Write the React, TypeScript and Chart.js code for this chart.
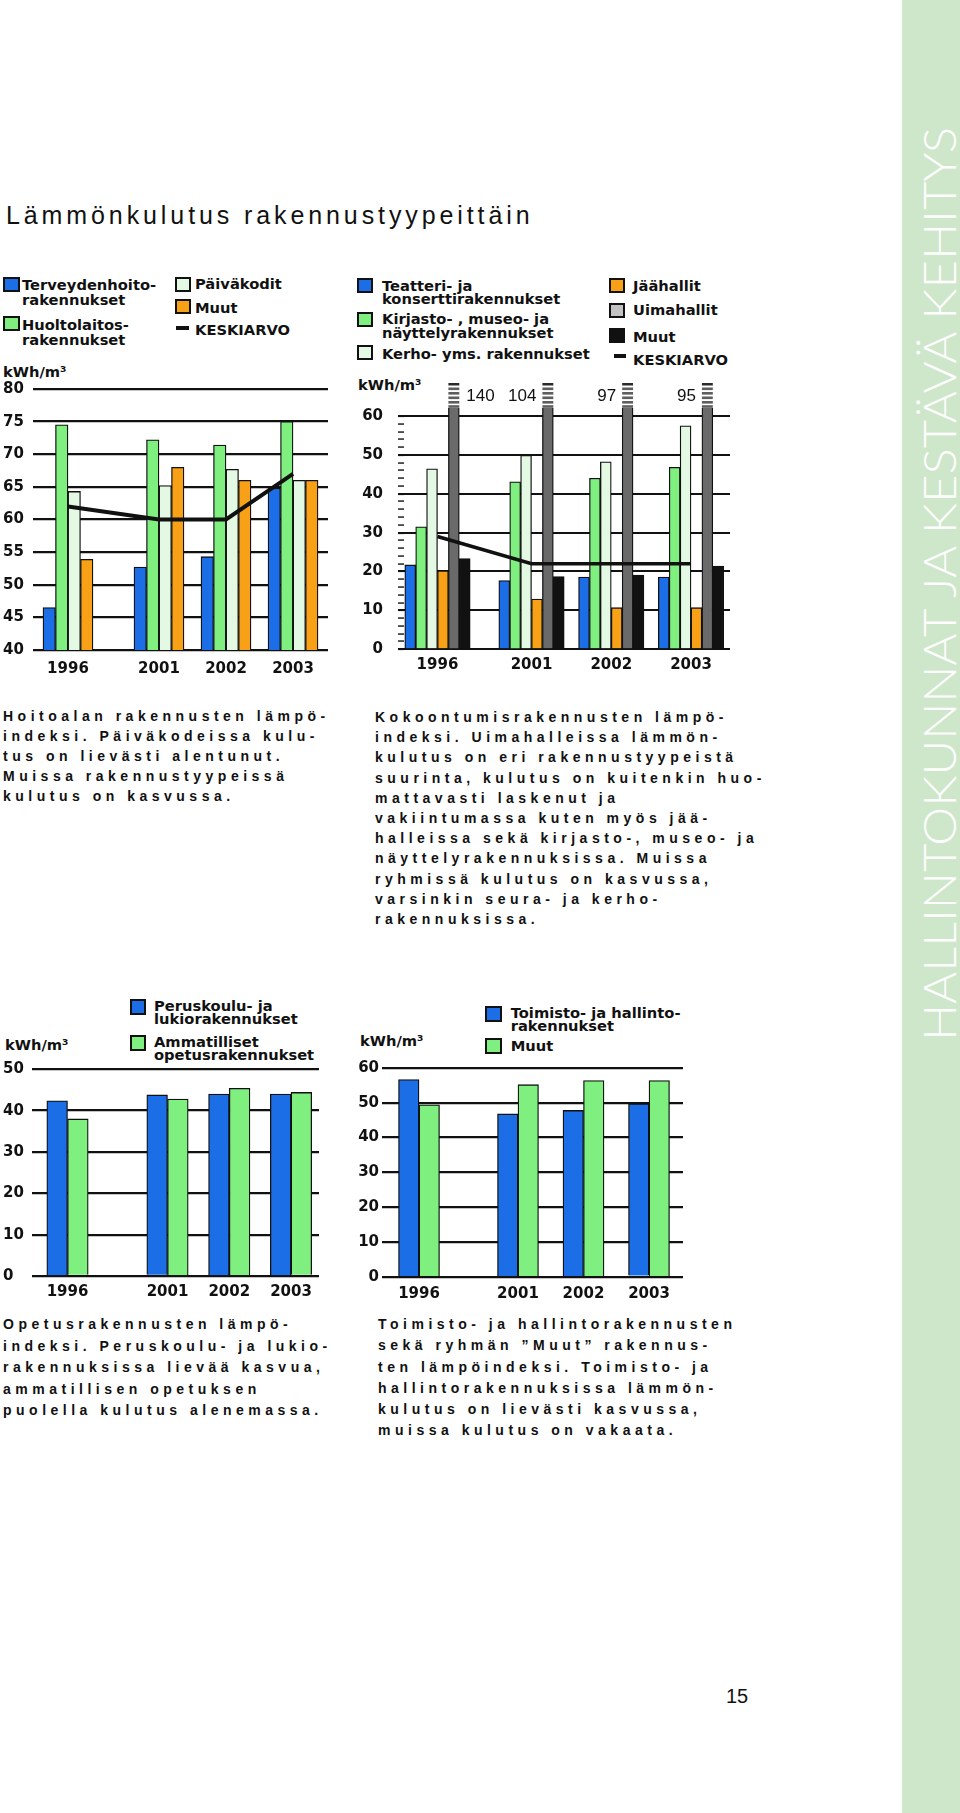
import React, { useEffect, useRef } from 'react';
import { Chart, registerables } from 'chart.js';

Chart.register(...registerables);

// ---------- DATA ----------
const years = ['1996', '2001', '2002', '2003'];

// Hoitoala (kWh/m3)
const terveydenhoito = [46.5, 52.7, 54.3, 64.8];
const huoltolaitos = [74.5, 72.2, 71.4, 75.0];
const paivakodit = [64.3, 65.2, 67.7, 66.0];
const hoitoMuut = [53.9, 68.0, 66.0, 66.0];
const hoitoKeskiarvo = [62, 60, 60, 67];

// Kokoontumisrakennukset
const teatteri = [21.7, 17.7, 18.6, 18.6];
const kirjasto = [31.5, 43.1, 44.0, 46.8];
const kerho = [46.4, 49.9, 48.2, 57.5];
const jaahallit = [20.2, 12.9, 10.7, 10.7];
const uimahallit = [140, 104, 97, 95];
const kokoMuut = [23.3, 18.7, 19.1, 21.4];
const kokoKeskiarvo = [29, 22, 22, 22];

// Opetusrakennukset
const peruskoulu = [42.4, 43.8, 44.0, 44.0];
const ammatilliset = [38.0, 42.8, 45.4, 44.4];

// Toimisto- ja hallintorakennukset
const toimisto = [56.7, 46.8, 47.8, 49.7];
const toimistoMuut = [49.4, 55.2, 56.4, 56.4];

// ---------- STYLE ----------
const C = {
  blue: '#1b6ee6',
  green: '#7ff07f',
  light: '#e4f9e4',
  orange: '#f8a117',
  gray: '#6a6a6a',
  black: '#111111',
  legendGray: '#c2c2c2',
  band: '#cee7ca',
};
const axisFont = { family: "'DejaVu Sans', sans-serif", size: 15, weight: 'bold' as const };
const legendFont = "bold 14.7px 'DejaVu Sans', sans-serif";
const paraFont = "bold 14px 'Liberation Sans', Arial, sans-serif";

type Layout = {
  box: { left: number; top: number; width: number; height: number };
  area: { l: number; t: number; r: number; b: number };
  axisLeft: number;
  crossAlign: 'near' | 'far';
  tickLength: number;
  labelPad: number;
  slots: number[];
  xMin: number;
  xMax: number;
  xLabelPad: number;
  yMin: number;
  yMax: number;
  yStep: number;
  labelEvery: number;
  gridEvery: number;
  barThickness: number;
  gridWidth: number;
};

const L1: Layout = {
  box: { left: 0, top: 372, width: 335, height: 310 },
  area: { l: 33, t: 389, r: 328, b: 650 },
  axisLeft: 3, crossAlign: 'far', tickLength: 0, labelPad: 0,
  slots: [0, 1.358, 2.358, 3.358], xMin: -0.522, xMax: 3.88, xLabelPad: 10,
  yMin: 40, yMax: 80, yStep: 5, labelEvery: 5, gridEvery: 5,
  barThickness: 12.5, gridWidth: 2.3,
};
const L2: Layout = {
  box: { left: 350, top: 372, width: 390, height: 308 },
  area: { l: 404, t: 416, r: 730, b: 649.3 },
  axisLeft: 352, crossAlign: 'near', tickLength: 6, labelPad: 15,
  slots: [0, 1.179, 2.179, 3.179], xMin: -0.42, xMax: 3.668, xLabelPad: 6.7,
  yMin: 0, yMax: 60, yStep: 2, labelEvery: 10, gridEvery: 10,
  barThickness: 10.9, gridWidth: 2.1,
};
const L3: Layout = {
  box: { left: 0, top: 1058, width: 330, height: 250 },
  area: { l: 32, t: 1069.3, r: 319, b: 1276 },
  axisLeft: 3, crossAlign: 'far', tickLength: 0, labelPad: 0,
  slots: [0, 1.619, 2.619, 3.619], xMin: -0.575, xMax: 4.072, xLabelPad: 7.5,
  yMin: 0, yMax: 50, yStep: 10, labelEvery: 10, gridEvery: 10,
  barThickness: 20.7, gridWidth: 2.3,
};
const L4: Layout = {
  box: { left: 350, top: 1056, width: 345, height: 252 },
  area: { l: 382, t: 1067.3, r: 683, b: 1276.7 },
  axisLeft: 352, crossAlign: 'near', tickLength: 0, labelPad: 3,
  slots: [0, 1.511, 2.511, 3.511], xMin: -0.565, xMax: 4.03, xLabelPad: 8.3,
  yMin: 0, yMax: 60, yStep: 10, labelEvery: 10, gridEvery: 10,
  barThickness: 20.5, gridWidth: 2.3,
};

function buildOptions(L: Layout): any {
  const isMajor = (v: number) => Math.round(v) % L.gridEvery === 0;
  return {
    animation: false,
    responsive: false,
    maintainAspectRatio: false,
    events: [],
    layout: {
      autoPadding: false,
      padding: {
        left: L.axisLeft - L.box.left,
        top: L.area.t - L.box.top,
        right: L.box.left + L.box.width - L.area.r,
        bottom: 0,
      },
    },
    plugins: { legend: { display: false }, tooltip: { enabled: false } },
    scales: {
      x: {
        type: 'linear',
        offset: false,
        min: L.xMin,
        max: L.xMax,
        afterBuildTicks: (a: any) => {
          a.ticks = L.slots.map((v) => ({ value: v }));
        },
        afterFit: (a: any) => {
          a.height = L.box.top + L.box.height - L.area.b;
        },
        ticks: {
          autoSkip: false,
          maxRotation: 0,
          padding: L.xLabelPad,
          font: axisFont,
          color: '#111',
          callback: (_v: any, i: number) => years[i],
        },
        grid: { display: false, drawTicks: false, offset: false },
        border: { display: false },
      },
      y: {
        type: 'linear',
        min: L.yMin,
        max: L.yMax,
        afterFit: (a: any) => {
          a.width = L.area.l - L.axisLeft;
        },
        ticks: {
          stepSize: L.yStep,
          autoSkip: false,
          font: axisFont,
          color: '#111',
          padding: L.labelPad,
          crossAlign: L.crossAlign,
          callback: (v: number) => (Math.round(v) % L.labelEvery === 0 ? String(v) : ''),
        },
        grid: {
          color: (c: any) => (c.tick && isMajor(c.tick.value) ? '#111' : 'rgba(0,0,0,0)'),
          lineWidth: L.gridWidth,
          drawTicks: L.tickLength > 0,
          tickLength: L.tickLength,
          tickColor: '#111',
          tickWidth: (c: any) => (c.tick && isMajor(c.tick.value) ? L.gridWidth : 1.4),
        },
        border: { display: false },
      },
    },
  };
}

function bars(L: Layout, label: string, values: number[], color: string, extra: any = {}) {
  return {
    type: 'bar',
    label,
    data: L.slots.map((x, i) => ({ x, y: values[i] })),
    backgroundColor: color,
    borderColor: '#111',
    borderWidth: 1.3,
    barThickness: L.barThickness,
    order: 1,
    ...extra,
  };
}

function avgLine(L: Layout, values: number[], width: number) {
  return {
    type: 'line',
    label: 'KESKIARVO',
    data: L.slots.map((x, i) => ({ x, y: values[i] })),
    borderColor: '#111',
    borderWidth: width,
    pointRadius: 0,
    tension: 0,
    fill: false,
    order: 0,
  };
}

const uimaBreak = {
  id: 'uimaBreak',
  afterDatasetsDraw(chart: any) {
    const meta = chart.getDatasetMeta(4);
    const ctx = chart.ctx;
    const top = chart.chartArea.top;
    ctx.save();
    meta.data.forEach((bar: any, i: number) => {
      const { x, width } = bar.getProps(['x', 'width'], true);
      const l = x - width / 2;
      ctx.fillStyle = '#2a2a2a';
      ctx.fillRect(l, top - 33, width, 2.5);
      ctx.fillStyle = '#5e5e5e';
      [-28.5, -24, -19.5, -15, -10.8].forEach((o) => ctx.fillRect(l, top + o, width, 2.6));
      ctx.font = "17px 'Liberation Sans', Arial, sans-serif";
      ctx.fillStyle = '#111';
      ctx.textBaseline = 'middle';
      if (i === 0) {
        ctx.textAlign = 'left';
        ctx.fillText(String(uimahallit[i]), l + width + 7, top - 19.5);
      } else {
        ctx.textAlign = 'right';
        ctx.fillText(String(uimahallit[i]), l - 6, top - 19.5);
      }
    });
    ctx.restore();
  },
};

function ChartBox({ layout, datasets, plugins = [] }: { layout: Layout; datasets: any[]; plugins?: any[] }) {
  const ref = useRef<HTMLCanvasElement>(null);
  useEffect(() => {
    const chart = new Chart(ref.current as HTMLCanvasElement, {
      type: 'bar',
      data: { datasets } as any,
      options: buildOptions(layout),
      plugins,
    } as any);
    return () => chart.destroy();
  }, []);
  const b = layout.box;
  return (
    <canvas
      ref={ref}
      width={b.width}
      height={b.height}
      style={{ position: 'absolute', left: b.left, top: b.top, width: b.width, height: b.height }}
    />
  );
}

function Sq({ left, top, color, w = 16, h = 15 }: any) {
  return (
    <div
      style={{
        position: 'absolute', left, top, width: w, height: h, boxSizing: 'border-box',
        border: '2px solid #111', background: color,
      }}
    />
  );
}
function Dash({ left, top, w = 13 }: any) {
  return <div style={{ position: 'absolute', left, top, width: w, height: 3.5, background: '#111' }} />;
}
function LText({ left, top, lh = 13.3, children }: any) {
  return (
    <div style={{ position: 'absolute', left, top, font: legendFont, lineHeight: lh + 'px', whiteSpace: 'pre', color: '#111' }}>
      {children}
    </div>
  );
}
function Unit({ left, top }: any) {
  return (
    <div style={{ position: 'absolute', left, top, font: legendFont, lineHeight: 1, whiteSpace: 'pre', color: '#111' }}>
      kWh/m³
    </div>
  );
}
function Para({ left, top, lh = 18.4, lines }: any) {
  return (
    <div
      style={{
        position: 'absolute', left, top, font: paraFont, lineHeight: lh + 'px',
        letterSpacing: '4.5px', whiteSpace: 'pre', color: '#111',
      }}
    >
      {lines.join('\n')}
    </div>
  );
}

export default function App() {
  const ds1 = [
    bars(L1, 'Terveydenhoitorakennukset', terveydenhoito, C.blue),
    bars(L1, 'Huoltolaitosrakennukset', huoltolaitos, C.green),
    bars(L1, 'Päiväkodit', paivakodit, C.light),
    bars(L1, 'Muut', hoitoMuut, C.orange),
    avgLine(L1, hoitoKeskiarvo, 4),
  ];
  const ds2 = [
    bars(L2, 'Teatteri- ja konserttirakennukset', teatteri, C.blue),
    bars(L2, 'Kirjasto-, museo- ja näyttelyrakennukset', kirjasto, C.green),
    bars(L2, 'Kerho- yms. rakennukset', kerho, C.light),
    bars(L2, 'Jäähallit', jaahallit, C.orange),
    bars(L2, 'Uimahallit', uimahallit, C.gray, { clip: { left: false, right: false, top: 8, bottom: false } }),
    bars(L2, 'Muut', kokoMuut, C.black),
    avgLine(L2, kokoKeskiarvo, 3.6),
  ];
  const ds3 = [
    bars(L3, 'Peruskoulu- ja lukiorakennukset', peruskoulu, C.blue),
    bars(L3, 'Ammatilliset opetusrakennukset', ammatilliset, C.green),
  ];
  const ds4 = [
    bars(L4, 'Toimisto- ja hallintorakennukset', toimisto, C.blue),
    bars(L4, 'Muut', toimistoMuut, C.green),
  ];

  return (
    <div
      style={{
        position: 'absolute', left: 0, top: 0, width: 960, height: 1813,
        background: '#fff', overflow: 'hidden',
      }}
    >
      {/* Title */}
      <div
        style={{
          position: 'absolute', left: 6, top: 203, font: "25px 'Liberation Sans', Arial, sans-serif",
          letterSpacing: '3.9px', lineHeight: 1, whiteSpace: 'pre', color: '#111',
        }}
      >
        Lämmönkulutus rakennustyypeittäin
      </div>

      {/* Chart 1 legend */}
      <Sq left={3} top={277} color={C.blue} w={17} />
      <LText left={22} top={277.4} lh={15}>{'Terveydenhoito-\nrakennukset'}</LText>
      <Sq left={3} top={316} color={C.green} w={17} />
      <LText left={22} top={316.7} lh={15}>{'Huoltolaitos-\nrakennukset'}</LText>
      <Sq left={175} top={277} color={C.light} />
      <LText left={195} top={276.4} lh={15}>Päiväkodit</LText>
      <Sq left={175} top={299} color={C.orange} />
      <LText left={195} top={300.1} lh={15}>Muut</LText>
      <Dash left={176} top={326} />
      <LText left={195} top={322.4} lh={15}>KESKIARVO</LText>
      <Unit left={3} top={365} />
      <ChartBox layout={L1} datasets={ds1} />

      {/* Chart 2 legend */}
      <Sq left={357} top={278} color={C.blue} />
      <LText left={382} top={279}>{'Teatteri- ja\nkonserttirakennukset'}</LText>
      <Sq left={357} top={312} color={C.green} />
      <LText left={382} top={312.3}>{'Kirjasto- , museo- ja\nnäyttelyrakennukset'}</LText>
      <Sq left={357} top={345} color={C.light} />
      <LText left={382} top={346.6}>Kerho- yms. rakennukset</LText>
      <Sq left={609} top={278} color={C.orange} />
      <LText left={633} top={279}>Jäähallit</LText>
      <Sq left={609} top={303} color={C.legendGray} />
      <LText left={633} top={303.3}>Uimahallit</LText>
      <Sq left={609} top={328} color={C.black} />
      <LText left={633} top={330}>Muut</LText>
      <Dash left={614} top={354} w={12} />
      <LText left={633} top={353.3}>KESKIARVO</LText>
      <Unit left={358} top={378.3} />
      <ChartBox layout={L2} datasets={ds2} plugins={[uimaBreak]} />

      {/* Paragraphs row 1 */}
      <Para
        left={3}
        top={706}
        lh={20}
        lines={[
          'Hoitoalan rakennusten lämpö-',
          'indeksi. Päiväkodeissa kulu-',
          'tus on lievästi alentunut.',
          'Muissa rakennustyypeissä',
          'kulutus on kasvussa.',
        ]}
      />
      <Para
        left={375}
        top={707}
        lh={20.2}
        lines={[
          'Kokoontumisrakennusten lämpö-',
          'indeksi. Uimahalleissa lämmön-',
          'kulutus on eri rakennustyypeistä',
          'suurinta, kulutus on kuitenkin huo-',
          'mattavasti laskenut ja',
          'vakiintumassa kuten myös jää-',
          'halleissa sekä kirjasto-, museo- ja',
          'näyttelyrakennuksissa. Muissa',
          'ryhmissä kulutus on kasvussa,',
          'varsinkin seura- ja kerho-',
          'rakennuksissa.',
        ]}
      />

      {/* Chart 3 legend */}
      <Sq left={130} top={999} color={C.blue} h={16} />
      <LText left={154} top={999}>{'Peruskoulu- ja\nlukiorakennukset'}</LText>
      <Sq left={130} top={1035} color={C.green} h={16} />
      <LText left={154} top={1035}>{'Ammatilliset\nopetusrakennukset'}</LText>
      <Unit left={5} top={1038.3} />
      <ChartBox layout={L3} datasets={ds3} />

      {/* Chart 4 legend */}
      <Sq left={485} top={1006} color={C.blue} w={17} h={16} />
      <LText left={510.7} top={1005.6}>{'Toimisto- ja hallinto-\nrakennukset'}</LText>
      <Sq left={485} top={1037.7} color={C.green} w={17} h={16} />
      <LText left={510.7} top={1039}>Muut</LText>
      <Unit left={360} top={1034.3} />
      <ChartBox layout={L4} datasets={ds4} />

      {/* Paragraphs row 2 */}
      <Para
        left={3}
        top={1314}
        lh={21.5}
        lines={[
          'Opetusrakennusten lämpö-',
          'indeksi. Peruskoulu- ja lukio-',
          'rakennuksissa lievää kasvua,',
          'ammatillisen opetuksen',
          'puolella kulutus alenemassa.',
        ]}
      />
      <Para
        left={378}
        top={1314}
        lh={21.3}
        lines={[
          'Toimisto- ja hallintorakennusten',
          'sekä ryhmän ”Muut” rakennus-',
          'ten lämpöindeksi. Toimisto- ja',
          'hallintorakennuksissa lämmön-',
          'kulutus on lievästi kasvussa,',
          'muissa kulutus on vakaata.',
        ]}
      />

      {/* Side band */}
      <svg style={{ position: 'absolute', left: 902, top: 0 }} width={58} height={1813}>
        <rect x={0} y={0} width={58} height={1813} fill={C.band} />
        <text
          transform="translate(54,1041) rotate(-90)"
          fontFamily="Lato, Roboto, 'Liberation Sans', Arial, sans-serif"
          fontWeight={300}
          fontSize={45}
          fill="#ffffff"
          textLength={914}
          lengthAdjust="spacingAndGlyphs"
        >
          HALLINTOKUNNAT JA KESTÄVÄ KEHITYS
        </text>
      </svg>

      {/* Page number */}
      <div
        style={{
          position: 'absolute', left: 726, top: 1686, font: "20px 'Liberation Sans', Arial, sans-serif",
          lineHeight: 1, color: '#111',
        }}
      >
        15
      </div>
    </div>
  );
}
